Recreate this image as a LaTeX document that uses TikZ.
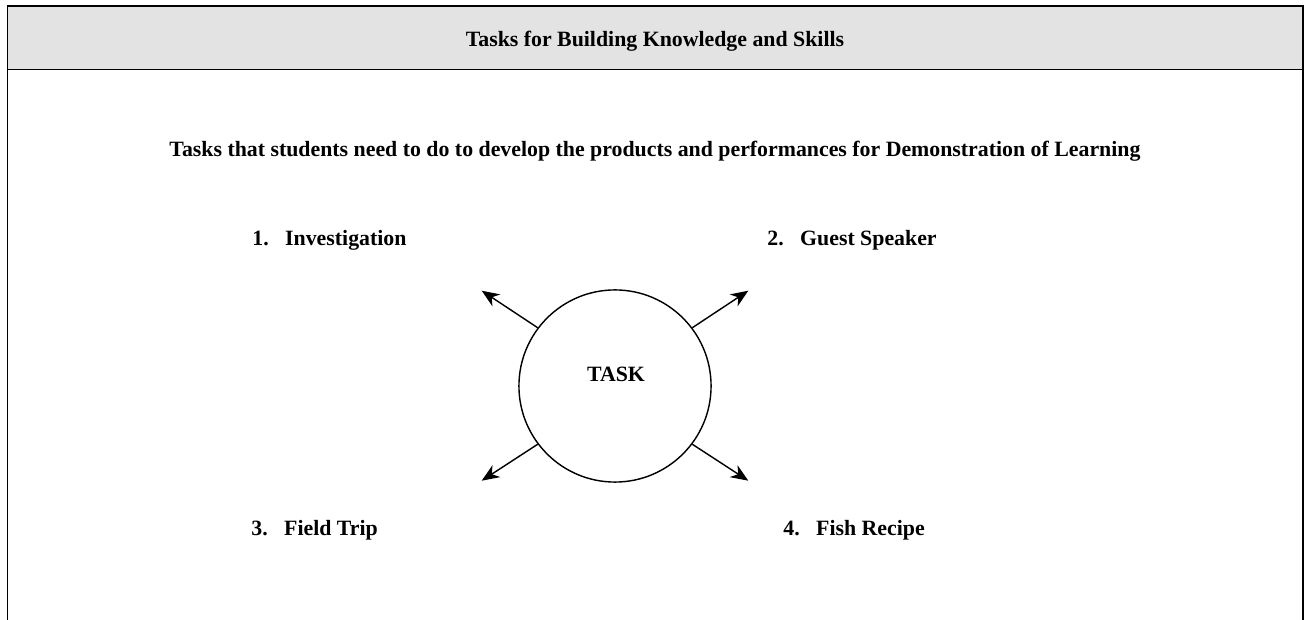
\documentclass[tikz,border=0pt]{standalone}
\usepackage{fontspec}
\setmainfont{Liberation Serif}
\usetikzlibrary{positioning,arrows.meta}
\definecolor{headgray}{HTML}{E3E3E3}

\begin{document}
\begin{tikzpicture}[
  x=0.458pt, y=-0.458pt,
  frame/.style={line width=0.9pt},
  hub/.style={draw, circle, line width=0.65pt, minimum size=88pt, inner sep=0pt},
  tasklabel/.style={font=\bfseries, anchor=base west, inner sep=0pt},
  spoke/.style={-{Stealth[length=8pt,width=6.5pt,inset=2.5pt]}, line width=0.65pt}
]
  \useasboundingbox (0,0) rectangle (1304,620);

  % header band and open frame
  \fill[headgray] (7.5,5.7) rectangle (1302.5,69.5);
  \draw[frame] (7.5,620) -- (7.5,5.7) -- (1302.5,5.7) -- (1302.5,620);
  \draw[frame] (7.5,69.5) -- (1302.5,69.5);

  \node[font=\bfseries, anchor=base, inner sep=0pt] (title) at (655,46.7)
    {Tasks for Building Knowledge and Skills};
  \node[font=\bfseries, anchor=base, inner sep=0pt] (aim) at (655,157)
    {Tasks that students need to do to develop the products and performances for Demonstration of Learning};

  % the hub and its four tasks
  \node[hub] (task) at (615,386) {};
  \node[font=\bfseries, anchor=base, inner sep=0pt] (tasktext) at (616,382) {TASK};

  \node[tasklabel] (invest) at (252,246) {1.\hspace{0.75em}Investigation};
  \node[tasklabel] (guest) at (767,246) {2.\hspace{0.75em}Guest Speaker};
  \node[tasklabel] (trip) at (251,536) {3.\hspace{0.75em}Field Trip};
  \node[tasklabel] (recipe) at (783,536) {4.\hspace{0.75em}Fish Recipe};

  \coordinate (nw) at (481.7,290.7);
  \coordinate (ne) at (748.3,290.7);
  \coordinate (sw) at (481.7,480.7);
  \coordinate (se) at (748.3,480.7);

  \draw[spoke] (task.143) -- (nw);
  \draw[spoke] (task.37) -- (ne);
  \draw[spoke] (task.217) -- (sw);
  \draw[spoke] (task.323) -- (se);
\end{tikzpicture}
\end{document}
